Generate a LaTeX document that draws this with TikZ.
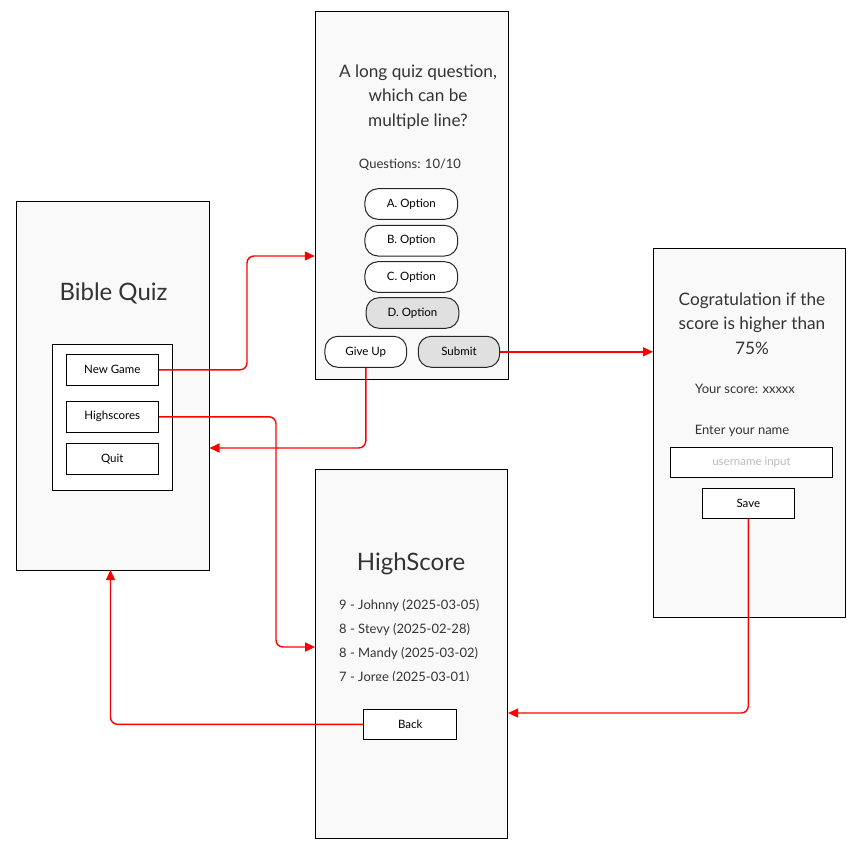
\documentclass[tikz,border=0pt]{standalone}
\usepackage{fontspec}
\setmainfont{Lato}
\usetikzlibrary{arrows.meta}
\definecolor{scr}{HTML}{F9F9F9}
\definecolor{gbtn}{HTML}{E0E0E0}
\definecolor{txt}{HTML}{333333}
\definecolor{ph}{HTML}{BBBBBB}
\definecolor{red}{HTML}{FF0000}
\tikzset{
  screen/.style={draw=black, fill=scr, line width=1pt, inner sep=0pt},
  box/.style={draw=black, fill=white, line width=1pt, inner sep=0pt, font=\fontsize{11.5}{13}\selectfont},
  pill/.style={box, rounded corners=13pt, draw=black!85},
  gpill/.style={pill, fill=gbtn},
  ttl/.style={text=txt, font=\fontsize{24}{28}\selectfont, inner sep=0pt},
  big/.style={text=txt, font=\fontsize{17.2}{24.7}\selectfont, align=center, inner sep=0pt},
  info/.style={text=txt, font=\fontsize{13}{15}\selectfont, inner sep=0pt},
  arr/.style={draw=red, line width=1.4pt, rounded corners=7pt, -{Triangle[length=10pt,width=9pt]}}
}
\begin{document}
\begin{tikzpicture}[x=1pt,y=-1pt]
\useasboundingbox (0,0) rectangle (860,848);
% screens
\node[screen, minimum width=193, minimum height=368.5] (main) at (112.5,385.75) {};
\node[screen, minimum width=193, minimum height=368] (quiz) at (411.75,195.75) {};
\node[screen, minimum width=192, minimum height=369] (score) at (749.5,433) {};
\node[screen, minimum width=192, minimum height=369] (hs) at (411.6,653.8) {};
% main menu
\node[ttl] (bq) at (113.5,293.5) {Bible Quiz};
\node[box, minimum width=120, minimum height=145.7] (menu) at (112.3,417.2) {};
\node[box, minimum width=92, minimum height=31] (ng) at (112.3,369.8) {New Game};
\node[box, minimum width=92, minimum height=31] (hsb) at (112.3,416.8) {Highscores};
\node[box, minimum width=92, minimum height=31] (quit) at (112.3,458.8) {Quit};
% quiz
\node[big] (q) at (418,97) {A long quiz question,\\which can be\\multiple line?};
\node[info] (qn) at (410,165) {Questions: 10/10};
\node[pill, minimum width=92.7, minimum height=30.6] (oa) at (411.3,204) {A. Option};
\node[pill, minimum width=92.7, minimum height=30.6] (ob) at (411.3,240.7) {B. Option};
\node[pill, minimum width=92.7, minimum height=30.6] (oc) at (411.3,277) {C. Option};
\node[gpill, minimum width=92.7, minimum height=30.6] (od) at (412.5,313) {D. Option};
\node[pill, minimum width=81.7, minimum height=31] (gu) at (365.8,351.8) {Give Up};
\node[gpill, minimum width=81.4, minimum height=31] (sub) at (459,351.8) {Submit};
% score
\node[big] (cg) at (752,323.5) {Cogratulation if the\\score is higher than\\75\%};
\node[info] (ys) at (745,389) {Your score: xxxxx};
\node[info] (en) at (742,431) {Enter your name};
\node[box, minimum width=162.4, minimum height=30, text=ph] (in) at (751.5,462.3) {username input};
\node[box, minimum width=92, minimum height=29.7] (save) at (748.3,503.2) {Save};
% highscore
\node[ttl] (hst) at (411,563.5) {HighScore};
\node[info, anchor=west] (l1) at (339,606) {9 - Johnny (2025-03-05)};
\node[info, anchor=west] (l2) at (339,630) {8 - Stevy (2025-02-28)};
\node[info, anchor=west] (l3) at (339,654) {8 - Mandy (2025-03-02)};
\begin{scope}
\clip (330,660) rectangle (500,680.5);
\node[info, anchor=west] (l4) at (339,678) {7 - Jorge (2025-03-01)};
\end{scope}
\node[box, minimum width=92.7, minimum height=30] (back) at (410.3,724.3) {Back};
% connectors
\coordinate (c1) at (247,256);
\coordinate (c2) at (276,647);
\coordinate (c3) at (366,448);
\coordinate (c5) at (748,713);
\coordinate (c6) at (110.5,570);
\draw[arr] (ng.east) -| (c1) -- (quiz.west |- c1);
\draw[arr] (hsb.east) -| (c2) -- (hs.west |- c2);
\draw[arr] (gu.south) |- (main.east |- c3);
\draw[arr] (sub.east) -- (score.west |- sub.east);
\draw[arr] (save.south) |- (hs.east |- c5);
\draw[arr] (back.west) -| (c6);
\end{tikzpicture}
\end{document}
